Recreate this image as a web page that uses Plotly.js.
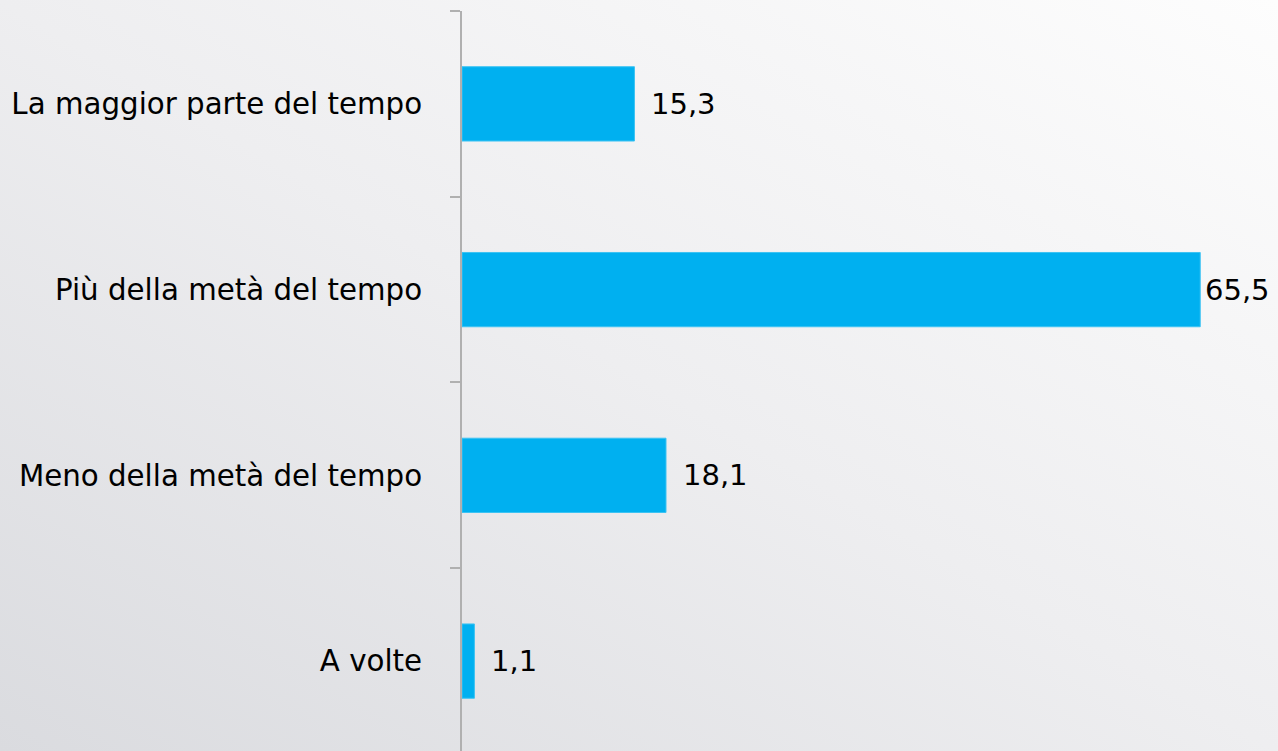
<!DOCTYPE html>
<html>
<head>
<meta charset="utf-8">
<script src="https://cdn.plot.ly/plotly-3.0.1.min.js"></script>
<style>
html, body { margin:0; padding:0; width:1278px; height:751px; overflow:hidden; }
body { background: linear-gradient(to top right, #dadbdf 0%, #eeeef0 50%, #fdfdfd 100%); }
#chart { width:1278px; height:751px; }
</style>
</head>
<body>
<div id="chart"></div>
<script>
// Categories listed bottom to top
const categories = ["A volte", "Meno della metà del tempo", "Più della metà del tempo", "La maggior parte del tempo"];
const values = [1.1, 18.1, 65.5, 15.3];
const labels = ["1,1", "18,1", "65,5", "15,3"];

const maxVal = Math.max(...values);
const annotations = values.map((v, i) => ({
  x: v, y: categories[i], xref: 'x', yref: 'y',
  text: labels[i], showarrow: false, xanchor: 'left', yanchor: 'middle',
  xshift: v === maxVal ? 3 : 15,
  font: {family: 'DejaVu Sans, Verdana, sans-serif', size: 29, color: '#000'}
}));

const trace = {
  type: 'bar', orientation: 'h',
  x: values, y: categories,
  marker: {color: '#00b0f0', line: {color: '#3cc3f3', width: 1}},
  width: 0.4,
  hoverinfo: 'none'
};

const layout = {
  width: 1278, height: 751,
  paper_bgcolor: 'rgba(0,0,0,0)', plot_bgcolor: 'rgba(0,0,0,0)',
  margin: {l: 462, r: 0, t: 11, b: 0},
  showlegend: false,
  separators: ',.',
  xaxis: {range: [0, 72.4], visible: false, fixedrange: true},
  yaxis: {
    type: 'category', range: [-0.484, 3.5],
    showline: true, linecolor: '#b0b0b0', linewidth: 2,
    ticks: 'outside', tickson: 'boundaries', ticklen: 10, tickwidth: 2, tickcolor: '#b0b0b0',
    ticklabelstandoff: 32,
    showgrid: false, zeroline: false,
    tickfont: {family: 'DejaVu Sans, Verdana, sans-serif', size: 29.3, color: '#000'},
    fixedrange: true
  },
  annotations: annotations
};

Plotly.newPlot('chart', [trace], layout, {displayModeBar: false, staticPlot: true});
</script>
</body>
</html>
